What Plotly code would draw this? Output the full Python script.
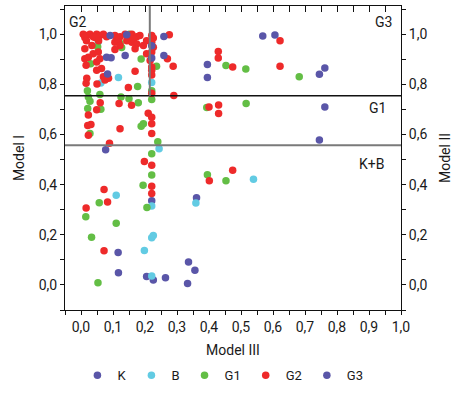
import plotly.graph_objects as go

# ---------------- data ----------------
K_x = [0.116, 0.117, 0.205, 0.226, 0.264, 0.336, 0.356, 0.333, 0.221, 0.361, 0.077]
K_y = [0.129, 0.049, 0.034, 0.020, 0.029, 0.092, 0.059, 0.006, 0.336, 0.348, 0.539]

B_x = [0.054, 0.062, 0.117, 0.221, 0.244, 0.221, 0.110, 0.198, 0.221, 0.226, 0.221, 0.359, 0.539]
B_y = [0.970, 0.806, 0.828, 0.808, 0.543, 0.315, 0.358, 0.137, 0.188, 0.197, 0.036, 0.327, 0.422]

G1_x = [0.122, 0.127, 0.052, 0.151, 0.188, 0.030, 0.236, 0.177, 0.221, 0.020, 0.453, 0.515,
        0.682, 0.516, 0.393, 0.023, 0.059, 0.028, 0.021, 0.062, 0.028, 0.125, 0.150, 0.179,
        0.221, 0.195, 0.188, 0.240, 0.221, 0.221, 0.194, 0.206, 0.110, 0.033, 0.057, 0.015,
        0.053, 0.395, 0.453]
G1_y = [0.964, 0.947, 0.950, 1.000, 0.902, 0.883, 0.873, 0.792, 0.775, 0.775, 0.876, 0.862,
        0.831, 0.724, 0.708, 0.750, 0.760, 0.733, 0.704, 0.701, 0.604, 0.750, 0.743, 0.727,
        0.740, 0.643, 0.633, 0.571, 0.523, 0.439, 0.398, 0.309, 0.246, 0.190, 0.328, 0.272,
        0.009, 0.440, 0.416]

G2_x = [0.007, 0.017, 0.028, 0.038, 0.049, 0.059, 0.070, 0.080, 0.106, 0.122, 0.138, 0.148,
        0.159, 0.174, 0.184, 0.221, 0.226, 0.276,
        0.012, 0.017, 0.012, 0.012, 0.023, 0.016, 0.018, 0.016, 0.023, 0.021, 0.031, 0.023,
        0.060, 0.049,
        0.044, 0.055, 0.034, 0.038, 0.054, 0.059, 0.049, 0.064, 0.049, 0.070, 0.075, 0.086,
        0.050,
        0.106, 0.117, 0.122, 0.143, 0.159, 0.164, 0.174, 0.195, 0.205, 0.106, 0.169,
        0.221, 0.226, 0.221, 0.205, 0.216, 0.221, 0.221, 0.221, 0.221,
        0.148, 0.169, 0.270, 0.288, 0.290,
        0.119, 0.158, 0.210, 0.221, 0.221, 0.122, 0.221, 0.089, 0.198, 0.221,
        0.221, 0.221, 0.072, 0.083, 0.016, 0.072, 0.401, 0.474,
        0.429, 0.429, 0.400, 0.430, 0.430, 0.474, 0.622, 0.622]
G2_y = [1.000, 0.995, 1.000, 0.990, 1.000, 0.995, 1.000, 0.990, 0.995, 0.990, 1.000, 0.985,
        1.000, 0.990, 0.995, 0.995, 0.985, 0.998,
        0.987, 0.974, 0.942, 0.903, 0.909, 0.877, 0.825, 0.805, 0.678, 0.636, 0.640, 0.597,
        0.727, 0.699,
        0.987, 0.974, 0.955, 0.922, 0.929, 0.903, 0.890, 0.864, 0.857, 0.831, 0.818, 0.825,
        0.802,
        0.968, 0.970, 0.955, 0.974, 0.968, 0.981, 0.961, 0.955, 0.974, 0.939, 0.942,
        0.968, 0.948, 0.929, 0.922, 0.896, 0.870, 0.857, 0.838, 0.765,
        0.788, 0.853, 0.903, 0.873, 0.756,
        0.724, 0.717, 0.685, 0.669, 0.643, 0.623, 0.604, 0.565, 0.493, 0.478,
        0.394, 0.365, 0.381, 0.331, 0.307, 0.136, 0.416, 0.458,
        0.931, 0.906, 0.710, 0.718, 0.684, 0.870, 0.974, 0.873]

G3_x = [0.568, 0.606, 0.395, 0.395, 0.745, 0.762, 0.762, 0.745, 0.259, 0.259, 0.221, 0.221,
        0.091, 0.143, 0.080, 0.094, 0.138, 0.083]
G3_y = [0.993, 0.997, 0.880, 0.828, 0.841, 0.866, 0.710, 0.578, 0.991, 0.915, 0.954, 0.906,
        0.995, 0.998, 0.909, 0.907, 0.915, 0.842]

SERIES = [("K", K_x, K_y, "#5A56A8"), ("B", B_x, B_y, "#62CBE3"), ("G1", G1_x, G1_y, "#63BE45"),
          ("G2", G2_x, G2_y, "#EE2A2A"), ("G3", G3_x, G3_y, "#5A56A8")]

LINE_G1_G3 = 0.755      # Model I threshold (black)
LINE_KB = 0.557         # Model I threshold (grey)
LINE_G2 = 0.215         # Model III threshold (grey, vertical)

X_RANGE = [-0.05, 1.0]
Y_RANGE = [-0.1, 1.113]

FONT = "Roboto, 'DejaVu Sans', sans-serif"

fig = go.Figure()
for name, xs, ys, col in SERIES:
    fig.add_trace(go.Scatter(x=xs, y=ys, mode="markers", name=name,
                             marker=dict(color=col, size=7.5, line=dict(width=0))))

# dummy trace to activate secondary axes
fig.add_trace(go.Scatter(x=[None], y=[None], xaxis="x2", yaxis="y2", showlegend=False,
                         hoverinfo="skip"))

fig.add_shape(type="line", xref="x", yref="y", x0=X_RANGE[0], x1=X_RANGE[1],
              y0=LINE_G1_G3, y1=LINE_G1_G3, line=dict(color="#111111", width=1.5), layer="above")
fig.add_shape(type="line", xref="x", yref="y", x0=X_RANGE[0], x1=X_RANGE[1],
              y0=LINE_KB, y1=LINE_KB, line=dict(color="#7a7a7a", width=2), layer="above")
fig.add_shape(type="line", xref="x", yref="y", x0=LINE_G2, x1=LINE_G2,
              y0=LINE_G1_G3, y1=Y_RANGE[1], line=dict(color="#7a7a7a", width=2), layer="above")

for txt, ax, ay in [("G2", -0.01, 1.05), ("G3", 0.944, 1.05), ("G1", 0.928, 0.708),
                    ("K+B", 0.909, 0.481)]:
    fig.add_annotation(x=ax, y=ay, xref="x", yref="y", text=txt, showarrow=False,
                       font=dict(size=14, color="#1a1a1a", family=FONT))

axis_common = dict(showgrid=False, zeroline=False, showline=True, linecolor="#111111",
                   linewidth=1, ticks="outside", ticklen=4, tickcolor="#111111", automargin=False,
                   tickfont=dict(size=14, color="#1a1a1a", family=FONT), tickformat=".1f")

fig.update_layout(
    width=459, height=396,
    margin=dict(l=65, r=58, t=6, b=78),
    paper_bgcolor="white", plot_bgcolor="white",
    separators=",.",
    font=dict(family=FONT, size=14, color="#1a1a1a"),
    xaxis=dict(range=X_RANGE, tick0=0, dtick=0.1,
               minor=dict(dtick=0.05, ticks="outside", ticklen=4, tickcolor="#111111"),
               title=dict(text="Model III", font=dict(size=14), standoff=11), **axis_common),
    xaxis2=dict(range=X_RANGE, overlaying="x", side="top", anchor="y", showgrid=False,
                zeroline=False, showline=True, linecolor="#111111", linewidth=1, automargin=False,
                ticks="inside", ticklen=6, tickcolor="#111111", tick0=0, dtick=0.05,
                showticklabels=False),
    yaxis=dict(range=Y_RANGE, tick0=0, dtick=0.2,
               minor=dict(dtick=0.1, ticks="outside", ticklen=4, tickcolor="#111111"),
               title=dict(text="Model I", font=dict(size=14), standoff=10), **axis_common),
    yaxis2=dict(range=Y_RANGE, overlaying="y", side="right", anchor="x", tick0=0, dtick=0.2,
                minor=dict(dtick=0.1, ticks="outside", ticklen=4, tickcolor="#111111"),
                title=dict(text="Model II", font=dict(size=14), standoff=13), **axis_common),
    legend=dict(orientation="h", x=0.47, xanchor="center", y=-0.215, yanchor="middle",
                font=dict(size=13, family=FONT)),
    showlegend=True,
)

fig.write_html("out.html", config={"displayModeBar": False},
               post_script="document.body.style.margin='0';document.body.style.overflow='hidden';")
